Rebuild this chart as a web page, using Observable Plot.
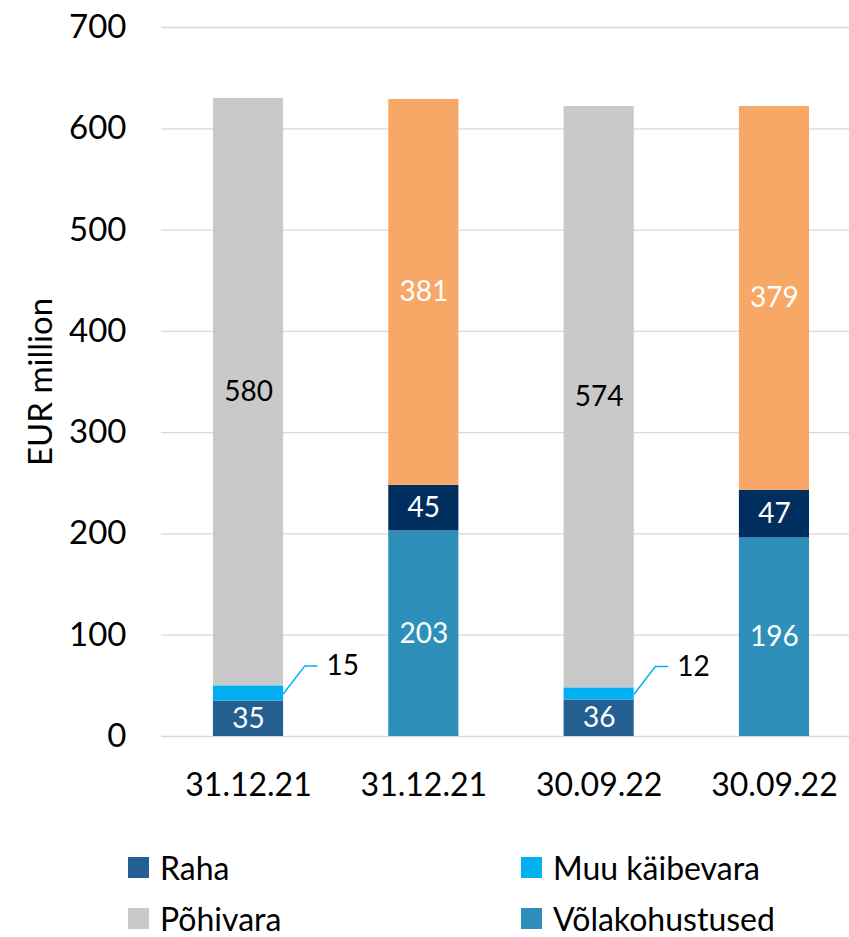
<!DOCTYPE html>
<html>
<head>
<meta charset="utf-8">
<script src="https://cdn.jsdelivr.net/npm/d3@7"></script>
<script src="https://cdn.jsdelivr.net/npm/@observablehq/plot@0.6"></script>
<style>
  html, body { margin: 0; padding: 0; background: #fff; }
  body { font-family: Lato, "Liberation Sans", sans-serif; width: 849px; overflow: hidden; }
  #chart svg { display: block; }
  #legend { position: relative; width: 849px; height: 122px; }
  .item { position: absolute; display: flex; align-items: center; height: 21px; font-size: 32px; line-height: 1; color: #000; white-space: nowrap; }
  .sw { width: 21px; height: 21px; margin-right: 11px; flex: none; }
</style>
</head>
<body>
<div id="chart"></div>
<div id="legend"></div>
<script>
// ---- data ----
const dates = ["31.12.21", "31.12.21", "30.09.22", "30.09.22"];
const seriesNames = ["Raha", "Muu käibevara", "Põhivara", "Võlakohustused", "Muud kohustused", "Omakapital"];
const raha           = [35, null, 36, null];
const muuKaibevara   = [15, null, 12, null];
const pohivara       = [580, null, 574, null];
const volakohustused = [null, 203, null, 196];
const muudKohustused = [null, 45, null, 47];
const omakapital     = [null, 381, null, 379];
const yTicks = [0, 100, 200, 300, 400, 500, 600, 700];
const legendNames = ["Raha", "Muu käibevara", "Põhivara", "Võlakohustused"];

const colors = ["#255e91", "#00b0f0", "#c9c9c9", "#2e8fbb", "#002f5f", "#f7a867"];

// ---- build stacked rows ----
const seriesValues = [raha, muuKaibevara, pohivara, volakohustused, muudKohustused, omakapital];
const rows = [];
dates.forEach((d, i) => {
  let acc = 0;
  seriesValues.forEach((vals, s) => {
    const v = vals[i];
    if (v == null) return;
    rows.push({i, series: seriesNames[s], value: v, y1: acc, y2: acc + v, mid: acc + v / 2});
    acc += v;
  });
});

const half = 0.2;
const outsideSeries = "Muu käibevara";
const inside = rows.filter(r => r.series !== outsideSeries);
const outside = rows.filter(r => r.series === outsideSeries);
const rise = 27;
const leaders = [];
outside.forEach(r => {
  leaders.push({k: r.i, x: r.i + half, y: r.mid});
  leaders.push({k: r.i, x: r.i + half + 0.12, y: r.mid + rise});
  leaders.push({k: r.i, x: r.i + half + 0.19, y: r.mid + rise});
});

const chart = Plot.plot({
  width: 849,
  height: 815,
  marginTop: 27,
  marginBottom: 79,
  marginLeft: 161,
  marginRight: 0,
  style: {fontFamily: "Lato, 'Liberation Sans', sans-serif", background: "#fff", color: "#000"},
  x: {type: "linear", domain: [-0.4963, 3.428], axis: null},
  y: {domain: [0, 700], axis: null},
  color: {domain: seriesNames, range: colors},
  marks: [
    Plot.gridY(yTicks, {stroke: "#d9d9d9", strokeOpacity: 1, strokeWidth: 1.3}),
    Plot.axisY(yTicks, {tickSize: 0, tickPadding: 35, fontSize: 33, label: null}),
    Plot.axisX(dates.map((d, i) => i), {tickSize: 0, tickPadding: 37, fontSize: 32, tickFormat: i => dates[i], label: null}),
    Plot.rect(rows, {x1: d => d.i - half, x2: d => d.i + half, y1: "y1", y2: "y2", fill: "series"}),
    Plot.line(leaders, {x: "x", y: "y", z: "k", stroke: "#00b0f0", strokeWidth: 1.5}),
    Plot.text(inside, {x: "i", y: "mid", text: d => String(d.value), fontSize: 28,
      fill: d => d.series === "Põhivara" ? "#000" : "#fff"}),
    Plot.text(outside, {x: d => d.i + half + 0.245, y: d => d.mid + rise, text: d => String(d.value),
      fontSize: 28, fill: "#000", textAnchor: "start"}),
    Plot.text(["EUR million"], {frameAnchor: "left", textAnchor: "middle", rotate: -90, dx: -120, fontSize: 33, fill: "#000"})
  ]
});
document.getElementById("chart").appendChild(chart);

// ---- legend ----
const legend = document.getElementById("legend");
const legendPos = [[128, 42], [521, 42], [128, 93], [521, 93]];
legendNames.forEach((name, k) => {
  const item = document.createElement("div");
  item.className = "item";
  item.style.left = legendPos[k][0] + "px";
  item.style.top = legendPos[k][1] + "px";
  const sw = document.createElement("span");
  sw.className = "sw";
  sw.style.background = colors[seriesNames.indexOf(name)];
  const tx = document.createElement("span");
  tx.textContent = name;
  item.appendChild(sw);
  item.appendChild(tx);
  legend.appendChild(item);
});
</script>
</body>
</html>
